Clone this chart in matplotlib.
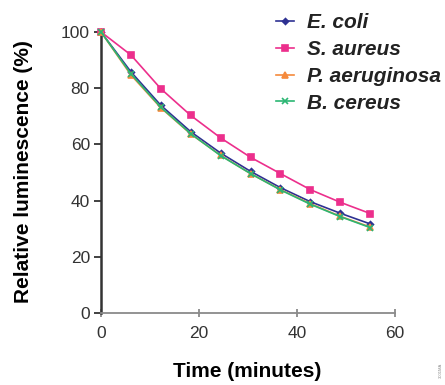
import numpy as np
import matplotlib.pyplot as plt

# data
times = [0, 6.1, 12.2, 18.3, 24.4, 30.5, 36.6, 42.7, 48.8, 54.9]
e_coli = [100, 85.8, 73.9, 64.5, 56.9, 50.4, 44.6, 39.6, 35.5, 31.7]
s_aureus = [100, 91.8, 79.8, 70.3, 62.3, 55.4, 49.6, 43.9, 39.4, 35.4]
p_aeruginosa = [100, 84.7, 73.0, 63.7, 56.1, 49.6, 43.9, 38.9, 34.4, 30.6]
b_cereus = [100, 85.1, 73.2, 63.8, 56.0, 49.6, 43.8, 38.7, 34.3, 30.4]
names = ["E. coli", "S. aureus", "P. aeruginosa", "B. cereus"]
xticks = [0, 20, 40, 60]
yticks = [0, 20, 40, 60, 80, 100]

plt.rcParams['font.family'] = ['Liberation Sans', 'DejaVu Sans']

fig = plt.figure(figsize=(4.45, 3.85), dpi=100)
ax = fig.add_axes([0.227, 0.187, 0.661, 0.730])

series = [e_coli, s_aureus, p_aeruginosa, b_cereus]
colors = ["#2e3192", "#ec2f8c", "#f58a3c", "#2bb673"]
markers = ["D", "s", "^", "x"]
sizes = [3, 5, 4, 4]

for vals, name, c, m, ms in zip(series, names, colors, markers, sizes):
    ax.plot(times, vals, color=c, marker=m, markersize=ms, linewidth=1.2,
            markeredgewidth=1.2, label=name, clip_on=False, zorder=3)

ax.set_xlim(0, 60)
ax.set_ylim(0, 100)
ax.set_xticks(xticks)
ax.set_yticks(yticks)
ax.spines['top'].set_visible(False)
ax.spines['right'].set_visible(False)
ax.spines['left'].set_color("#333333")
ax.spines['left'].set_linewidth(1.8)
ax.spines['bottom'].set_color("#8a8a8a")
ax.spines['bottom'].set_linewidth(1.3)
ax.tick_params(axis='y', direction='out', length=5, width=1.3, color="#333333",
               pad=3, labelsize=12.5, labelcolor="#333333")
ax.tick_params(axis='x', direction='inout', length=6, width=1.3, color="#8a8a8a",
               pad=6, labelsize=12.5, labelcolor="#333333")

ax.set_xlabel("Time (minutes)", fontsize=15, fontweight='bold', va='top')
ax.set_ylabel("Relative luminescence (%)", fontsize=15, fontweight='bold')
ax.xaxis.set_label_coords(0.497, -0.174)
ax.yaxis.set_label_coords(-0.231, 0.505)

leg = fig.legend(loc='upper left', bbox_to_anchor=(0.578, 1.015), frameon=False,
                 handlelength=0.87, handletextpad=0.62, labelspacing=0.38,
                 prop={'weight': 'bold', 'style': 'italic', 'size': 15})
for t in leg.get_texts():
    t.set_color("#222222")

fig.text(0.986, 0.02, "3001MA", rotation=90, fontsize=3, color="#888888")

fig.savefig("out.png", dpi=100)
